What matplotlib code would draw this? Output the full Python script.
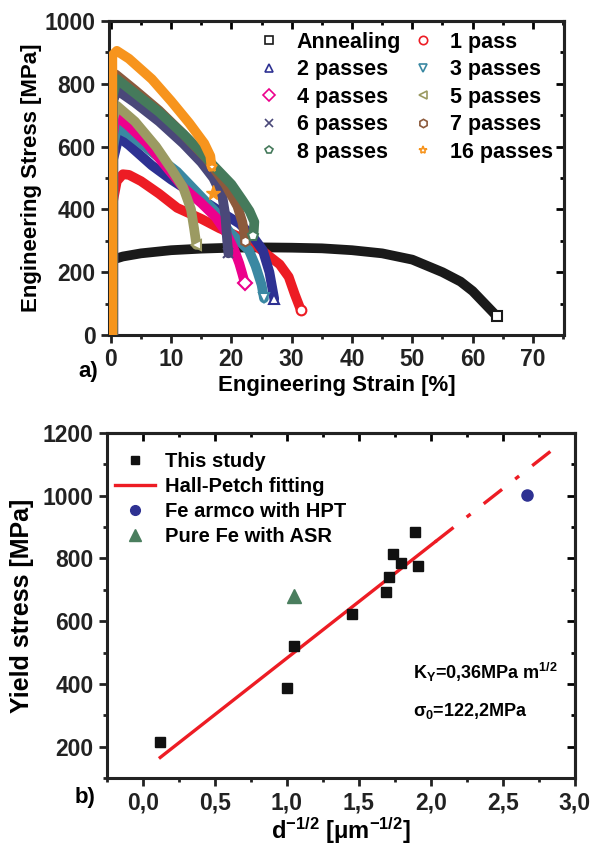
import numpy as np
import matplotlib
matplotlib.use('Agg')
import matplotlib.pyplot as plt
from matplotlib.lines import Line2D
from matplotlib.ticker import MultipleLocator, FuncFormatter

plt.rcParams['font.family'] = ['Liberation Sans', 'DejaVu Sans']
plt.rcParams['font.weight'] = 'bold'
plt.rcParams['mathtext.fontset'] = 'custom'
plt.rcParams['mathtext.rm'] = 'Liberation Sans:bold'
plt.rcParams['mathtext.it'] = 'Liberation Sans:bold'
plt.rcParams['mathtext.bf'] = 'Liberation Sans:bold'

# ---- a) stress-strain curves (strain %, stress MPa) ----
labels = ['Annealing', '1 pass', '2 passes', '3 passes', '4 passes',
          '5 passes', '6 passes', '7 passes', '8 passes', '16 passes']
colors = ['#1a1a1a', '#ED1C24', '#2E3192', '#3A88A2', '#EC008C',
          '#9B9A62', '#4A4879', '#8C5A3C', '#457A5B', '#F7941D']
markers = ['s', 'o', '^', 'v', 'D', '<', 'x', 'h', 'p', '*']

strain = [
    [0.3, 0.3, 2, 5, 10, 15, 20, 25, 30, 35, 40, 45, 50, 55, 58, 60, 62, 63.5, 64],
    [0.3, 0.3, 1, 2, 3, 5, 8, 11, 15, 18, 21, 24, 26, 28, 29.5, 30.5, 31.5],
    [0.4, 0.4, 1.3, 3, 6.8, 10, 14, 18, 21.3, 23.5, 25.2, 26.3, 27.1],
    [0.4, 0.4, 1, 3, 7, 11, 15, 17.5, 19.6, 21.5, 22.9, 24, 25, 25.4],
    [0.4, 0.4, 0.8, 3, 6, 9, 12, 15, 17.4, 19, 20.5, 21.3, 21.8, 22.2],
    [0.4, 0.4, 1, 4, 7.5, 10, 12, 13.3, 13.8, 14.2],
    [0.3, 0.3, 1, 4, 8, 12, 15, 17, 18.5, 19, 19.3, 19.5],
    [0.3, 0.3, 0.8, 4, 8, 12, 16, 19, 21, 21.8, 22.1, 22.3],
    [0.3, 0.3, 1, 4, 8, 12, 14.6, 17, 20, 21.8, 23, 23.8, 23.7, 23.6],
    [0.25, 0.25, 1, 3, 6.8, 10, 13, 15.5, 16.5, 16.7],
]
stress = [
    [0, 240, 250, 260, 270, 275, 278, 279, 278, 276, 270, 260, 240, 200, 170, 140, 100, 70, 60],
    [0, 420, 490, 512, 510, 490, 450, 405, 370, 340, 315, 285, 255, 225, 185, 130, 80],
    [0, 560, 630, 605, 540, 495, 445, 395, 355, 315, 270, 200, 115],
    [0, 600, 660, 640, 580, 520, 440, 390, 330, 295, 270, 220, 160, 117],
    [0, 640, 700, 665, 610, 540, 470, 420, 375, 330, 270, 228, 195, 167],
    [0, 690, 730, 680, 600, 530, 470, 400, 340, 287],
    [0, 740, 780, 740, 680, 610, 550, 500, 440, 380, 300, 260],
    [0, 780, 830, 780, 715, 640, 560, 480, 410, 360, 330, 300],
    [0, 760, 815, 770, 710, 640, 590, 540, 480, 430, 395, 360, 330, 315],
    [0, 890, 905, 880, 815, 745, 675, 610, 570, 536],
]
extra_star = (16.9, 453)

# ---- b) Hall-Petch data ----
d_study = [0.12, 1.0, 1.05, 1.45, 1.69, 1.71, 1.74, 1.79, 1.89, 1.91]
ys_study = [215, 388, 522, 624, 693, 741, 813, 784, 884, 776]
d_hpt, ys_hpt = [2.67], [1003]
d_asr, ys_asr = [1.05], [680]
sigma0, ky = 122.2, 360.0
fit_solid = [0.12, 2.03]
fit_dash = [2.03, 2.83]


def style_axes(ax, xmaj, xmin, ymaj, ymin):
    for s in ax.spines.values():
        s.set_linewidth(2.2)
        s.set_color('#222222')
    ax.xaxis.set_major_locator(MultipleLocator(xmaj))
    ax.xaxis.set_minor_locator(MultipleLocator(xmin))
    ax.yaxis.set_major_locator(MultipleLocator(ymaj))
    ax.yaxis.set_minor_locator(MultipleLocator(ymin))
    ax.tick_params(which='major', direction='out', length=6, width=2,
                   labelsize=16.5, colors='#222222')
    ax.tick_params(which='minor', direction='out', length=3, width=2,
                   colors='#222222')
    top = ax.secondary_xaxis('top')
    top.xaxis.set_major_locator(MultipleLocator(xmaj))
    top.xaxis.set_minor_locator(MultipleLocator(xmin))
    top.tick_params(which='major', direction='in', length=6, width=2, labeltop=False)
    top.tick_params(which='minor', direction='in', length=3, width=2)
    right = ax.secondary_yaxis('right')
    right.yaxis.set_major_locator(MultipleLocator(ymaj))
    right.yaxis.set_minor_locator(MultipleLocator(ymin))
    right.tick_params(which='major', direction='in', length=6, width=2, labelright=False)
    right.tick_params(which='minor', direction='in', length=3, width=2)
    for sec in (top, right):
        for s in sec.spines.values():
            s.set_linewidth(2.2)
            s.set_color('#222222')


fig = plt.figure(figsize=(5.99, 8.47), dpi=100)

# panel a
ax1 = fig.add_axes([0.182, 0.6045, 0.760, 0.3707])
for i in range(len(labels)):
    ax1.plot(strain[i], stress[i], color=colors[i], lw=7,
             solid_capstyle='round', solid_joinstyle='round', zorder=2 + i)
    mfc = colors[i] if markers[i] == 'x' else 'white'
    ax1.plot(strain[i][-1], stress[i][-1], marker=markers[i], ms=7,
             mfc=mfc, mec=colors[i], mew=1.5, ls='none', zorder=20)
ax1.plot(*extra_star, marker='*', ms=11, color=colors[-1], ls='none', zorder=20)
ax1.set_xlim(-0.3, 75.2)
ax1.set_ylim(0, 1000)
style_axes(ax1, 10, 5, 200, 100)
ax1.set_xlabel('Engineering Strain [%]', fontsize=16, fontweight='bold', labelpad=3)
ax1.set_ylabel('Engineering Stress [MPa]', fontsize=16, fontweight='bold', labelpad=2)

handles = [Line2D([], [], ls='none', marker=m, ms=6, mfc='white', mec=c, mew=1.2)
           for m, c in zip(markers, colors)]
order = [0, 2, 4, 6, 8, 1, 3, 5, 7, 9]
ax1.legend([handles[k] for k in order], [labels[k] for k in order], ncol=2,
           loc='upper right', bbox_to_anchor=(1.0, 1.0), frameon=False,
           fontsize=15.5, handlelength=0.8, handletextpad=0.9,
           columnspacing=0.6, labelspacing=0.3, borderaxespad=0.1)
fig.text(0.147, 0.561, 'a)', fontsize=16, fontweight='bold', ha='center', va='center')

# panel b
ax2 = fig.add_axes([0.1786, 0.0815, 0.7810, 0.4073])
xs = np.array(fit_solid)
ax2.plot(xs, sigma0 + ky * xs, color='#ED1C24', lw=2.4, zorder=2)
xd = np.array(fit_dash)
ax2.plot(xd, sigma0 + ky * xd, color='#ED1C24', lw=2.4, ls=(0, (7, 5, 1.5, 5)), zorder=2)
ax2.plot(d_study, ys_study, 's', color='#111111', ms=7, ls='none', zorder=3)
ax2.plot(d_hpt, ys_hpt, 'o', color='#2E3192', ms=8, ls='none', zorder=3)
ax2.plot(d_asr, ys_asr, '^', color='#4A7E5E', ms=10, ls='none', zorder=3)
ax2.set_xlim(-0.25, 3.0)
ax2.set_ylim(100, 1200)
style_axes(ax2, 0.5, 0.25, 200, 100)
ax2.xaxis.set_major_formatter(FuncFormatter(lambda v, p: f'{v:.1f}'.replace('.', ',')))
ax2.set_xlabel(r'd$^{\mathregular{-1/2}}$ [μm$^{\mathregular{-1/2}}$]', fontsize=17,
               fontweight='bold', labelpad=1)
ax2.set_ylabel('Yield stress [MPa]', fontsize=18, fontweight='bold', labelpad=6)

leg_handles = [
    Line2D([], [], ls='none', marker='s', ms=6, color='#111111'),
    Line2D([], [], color='#ED1C24', lw=2.4),
    Line2D([], [], ls='none', marker='o', ms=7, color='#2E3192'),
    Line2D([], [], ls='none', marker='^', ms=9, color='#4A7E5E'),
]
ax2.legend(leg_handles, ['This study', 'Hall-Petch fitting', 'Fe armco with HPT',
                         'Pure Fe with ASR'],
           loc='upper left', bbox_to_anchor=(-0.005, 0.973), frameon=False,
           fontsize=14.5, handlelength=2.0, handletextpad=0.5, labelspacing=0.3,
           borderaxespad=0.2, borderpad=0.3)
ax2.text(0.655, 0.305, r'K$_{\mathregular{Y}}$=0,36MPa m$^{\mathregular{1/2}}$',
         transform=ax2.transAxes, fontsize=13, fontweight='bold', va='center')
ax2.text(0.655, 0.195, r'σ$_{\mathregular{0}}$=122,2MPa',
         transform=ax2.transAxes, fontsize=13, fontweight='bold', va='center')
fig.text(0.142, 0.058, 'b)', fontsize=16, fontweight='bold', ha='center', va='center')

fig.savefig('out.png', dpi=100)
